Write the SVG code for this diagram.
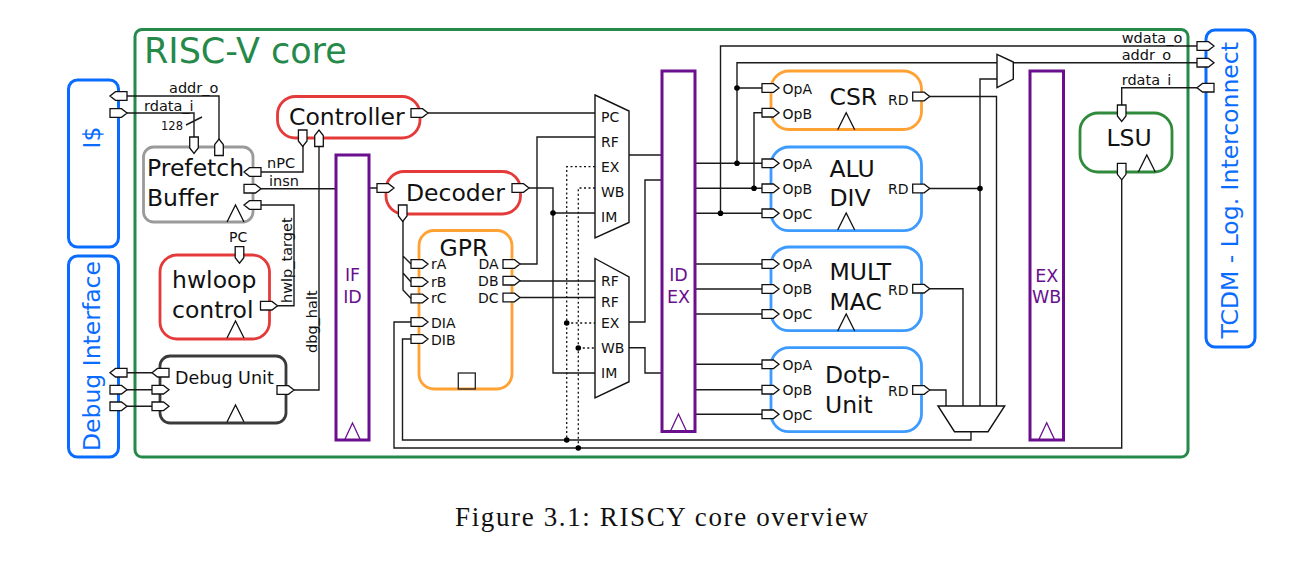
<svg xmlns="http://www.w3.org/2000/svg" width="1303" height="567" viewBox="0 0 1303 567">
<style>
text{font-family:"DejaVu Sans","Liberation Sans",sans-serif;fill:#111}
.box{fill:#fff;stroke-width:2.8}
.red{stroke:#e53a3a}.org{stroke:#ffa133}.blu{stroke:#3d9bff}.gry{stroke:#9a9a9a}.drk{stroke:#3a3a3a}.grn{stroke:#2f8a3c}
.ext{fill:#fff;stroke:#0a6cff;stroke-width:3}
.reg{fill:#fff;stroke:#6a0f8e;stroke-width:3}
.port{fill:#fff;stroke:#111;stroke-width:1.3;stroke-linejoin:miter}
.clk{fill:none;stroke:#111;stroke-width:1.3}
.clkp{fill:none;stroke:#6a0f8e;stroke-width:1.3}
.wire{fill:none;stroke:#1a1a1a;stroke-width:1.4}
.dot{fill:none;stroke:#111;stroke-width:1.3;stroke-dasharray:2 2.5}
.mux{fill:#fff;stroke:#111;stroke-width:1.4}
.big{font-size:23.5px}
.sm{font-size:14.5px}
.mx{font-size:14px}
.ex{font-size:23.5px;fill:#0a6cff}
.rg{font-size:17.5px;fill:#6a0f8e;text-anchor:middle}
</style>
<defs>
<polygon id="pr" class="port" points="0,-4.3 11.5,-4.3 17,0 11.5,4.3 0,4.3"/>
<polygon id="pl" class="port" points="17,-4.3 5.5,-4.3 0,0 5.5,4.3 17,4.3"/>
<polygon id="pd" class="port" points="-4.3,0 4.3,0 4.3,11 0,16.5 -4.3,11"/>
<polygon id="pu" class="port" points="-4.3,16.5 4.3,16.5 4.3,5.5 0,0 -4.3,5.5"/>
<path id="ck" class="clk" d="M0 17L8.5 0L17 17"/>
<path id="ckp" class="clkp" d="M0 16.5L7.7 0L15.4 16.5"/>
<circle id="jn" r="2.8" fill="#000"/>
</defs>

<g id="core">
<rect x="135" y="29.5" width="1053" height="427.5" rx="7" fill="#fff" stroke="#25894a" stroke-width="3"/>
<text x="144" y="63" font-size="35" style="fill:#25894a">RISC-V core</text>
</g>
<g id="icache">
<rect class="ext" x="68.500" y="80" width="50" height="167" rx="9"/>
<text class="ex" transform="translate(100,148.500) rotate(-90)">I$</text>
</g>
<g id="debug-interface">
<rect class="ext" x="68.500" y="256" width="50" height="201" rx="9"/>
<text class="ex" transform="translate(100,451) rotate(-90)">Debug Interface</text>
<use href="#pl" x="110" y="372.700"/><use href="#pr" x="110" y="389.700"/><use href="#pr" x="110" y="406.300"/>
</g>
<g id="tcdm">
<rect class="ext" x="1206" y="30" width="49" height="317" rx="9"/>
<text class="ex" transform="translate(1238,338.500) rotate(-90)">TCDM - Log. Interconnect</text>
</g>

<g id="connectors">
<path class="wire" d="M127 96H219V139M127 113H194V137M186 125L202 117"/>
<path class="wire" d="M261 172H303V146M261 188.700H336M277 305.700H294V205H261M294 390H319V146"/>
<path class="wire" d="M127 372.700H152M127 389.700H152M127 406.300H152M369 188H377"/>
<path class="wire" d="M403 221V290L411 298.500M403 256L411 264M403 273L411 282"/>
<path class="wire" d="M428 113H595M529 188H553V373H595M553 213H595M520 264H537V137H595M520 281H595M520 297.500H595"/>
<path class="wire" d="M411 322H394V448H1121.700V179M411 339H402.500V440H971V432"/>
<path class="dot" d="M595 166.700H566.700V440M595 188H578.300V448M566.700 323H595M578.300 348H595"/>
<path class="wire" d="M629 155H662M662 180H645V322H629M629 347.700H645V373H662"/>
<path class="wire" d="M695 163.300H762M695 188.300H762M695 213.300H762M695 264H762M695 289H762M695 314H762M695 364.300H762M695 389.700H762M695 414.300H762"/>
<path class="wire" d="M720.500 213.300V46H1197M737 163.300V62.700H997M737 88H762M754 188.300V112.700H762M1013 62.700H1197"/>
<path class="wire" d="M929 96.500H996.500V406M929 188.500H980M980 406V79H997M929 288.700H963V406M929 390H946V406"/>
<path class="wire" d="M1197 87.700H1121.700V105"/>
<use href="#jn" x="737" y="88"/><use href="#jn" x="737" y="163.300"/><use href="#jn" x="754" y="188.300"/><use href="#jn" x="720.500" y="213.300"/><use href="#jn" x="553" y="213"/><use href="#jn" x="980" y="188.500"/><use href="#jn" x="566.700" y="323"/><use href="#jn" x="578.300" y="348"/><use href="#jn" x="566.700" y="440"/><use href="#jn" x="578.300" y="448"/>
<text class="sm" x="169" y="93.300">addr_o</text>
<text class="sm" x="144" y="110.500">rdata_i</text>
<text x="161" y="130" font-size="11.500">128</text>
<text class="sm" x="267" y="167.500">nPC</text>
<text class="sm" x="269" y="186">insn</text>
<text class="sm" transform="translate(291.500,303) rotate(-90)">hwlp_target</text>
<text class="sm" transform="translate(316.500,353) rotate(-90)">dbg_halt</text>
<text class="sm" x="1121.700" y="43.400">wdata_o</text>
<text class="sm" x="1121.700" y="60">addr_o</text>
<text class="sm" x="1121.700" y="85">rdata_i</text>
</g>

<g id="prefetch-buffer">
<rect class="box gry" x="143.500" y="147" width="109.500" height="75" rx="10"/>
<text class="big" x="147" y="176">Prefetch</text><text class="big" x="147" y="206">Buffer</text>
<use href="#ck" x="227" y="205"/>
<use href="#pd" x="194" y="137"/><use href="#pu" x="219" y="139"/>
<use href="#pl" x="244" y="172"/><use href="#pr" x="244" y="188.700"/><use href="#pl" x="244" y="205"/>
</g>
<g id="controller">
<rect class="box red" x="277.500" y="96.500" width="142.500" height="41.500" rx="18"/>
<text class="big" x="289" y="125">Controller</text>
<use href="#pd" x="302.700" y="130"/><use href="#pu" x="319" y="130"/><use href="#pr" x="411" y="113"/>
</g>
<g id="hwloop-control">
<rect class="box red" x="160" y="255" width="109.500" height="84" rx="17"/>
<text class="big" x="172" y="288">hwloop</text><text class="big" x="172" y="318">control</text>
<use href="#ck" x="227" y="321"/>
<use href="#pd" x="239.500" y="246.700"/><use href="#pr" x="260.500" y="305.700"/>
<text class="mx" x="229" y="242">PC</text>
</g>
<g id="debug-unit">
<rect class="box drk" x="160" y="356" width="126" height="67" rx="10"/>
<text x="175" y="384" font-size="17.500">Debug Unit</text>
<use href="#ck" x="227" y="405"/>
<use href="#pl" x="152" y="372.700"/><use href="#pr" x="152" y="389.700"/><use href="#pr" x="152" y="406.300"/><use href="#pr" x="277" y="390"/>
</g>
<g id="if-id">
<rect class="reg" x="336" y="155" width="33" height="285"/>
<text class="rg" x="352.500" y="281">IF</text><text class="rg" x="352.500" y="303">ID</text>
<use href="#ckp" x="344.800" y="423"/>
</g>
<g id="decoder">
<rect class="box red" x="386" y="171.500" width="134.500" height="42.500" rx="18"/>
<text class="big" x="406" y="201">Decoder</text>
<use href="#pr" x="377" y="188"/><use href="#pr" x="512" y="188"/><use href="#pd" x="402.700" y="205"/>
</g>
<g id="gpr">
<rect class="box org" x="419" y="230.500" width="93" height="158.500" rx="15"/>
<rect x="458.300" y="373" width="17" height="16" fill="none" stroke="#222" stroke-width="1.300"/>
<text class="big" x="439.500" y="255.500">GPR</text>
<text class="mx" x="431" y="269">rA</text><text class="mx" x="431" y="287">rB</text><text class="mx" x="431" y="303">rC</text>
<text class="mx" x="431" y="327.500">DIA</text><text class="mx" x="431" y="345">DIB</text>
<text class="mx" x="498.500" y="269" text-anchor="end">DA</text><text class="mx" x="498.500" y="286" text-anchor="end">DB</text><text class="mx" x="498.500" y="303" text-anchor="end">DC</text>
<use href="#pr" x="411" y="264"/><use href="#pr" x="411" y="282"/><use href="#pr" x="411" y="298.500"/><use href="#pr" x="411" y="322"/><use href="#pr" x="411" y="339"/>
<use href="#pr" x="503" y="264"/><use href="#pr" x="503" y="280.700"/><use href="#pr" x="503" y="297.500"/>
</g>
<g id="mux-a">
<polygon class="mux" points="595,95 629,111 629,222.500 595,238"/>
<text class="mx" x="601" y="121.700">PC</text><text class="mx" x="601" y="146.700">RF</text><text class="mx" x="601" y="171.700">EX</text><text class="mx" x="601" y="196.700">WB</text><text class="mx" x="601" y="221.700">IM</text>
</g>
<g id="mux-b">
<polygon class="mux" points="595,258.500 629,277 629,381.700 595,398"/>
<text class="mx" x="601" y="286">RF</text><text class="mx" x="601" y="306.700">RF</text><text class="mx" x="601" y="328">EX</text><text class="mx" x="601" y="353">WB</text><text class="mx" x="601" y="378">IM</text>
</g>
<g id="id-ex">
<rect class="reg" x="662" y="71" width="33" height="360.500"/>
<text class="rg" x="678.500" y="281">ID</text><text class="rg" x="678.500" y="303">EX</text>
<use href="#ckp" x="670.800" y="414"/>
</g>
<g id="csr">
<rect class="box org" x="771" y="71" width="150.500" height="58.500" rx="18"/>
<text class="big" x="829.500" y="105">CSR</text>
<text class="mx" x="782.500" y="94">OpA</text><text class="mx" x="782.500" y="119">OpB</text><text class="mx" x="888" y="105">RD</text>
<use href="#ck" x="837.700" y="112.700"/>
<use href="#pr" x="762" y="88"/><use href="#pr" x="762" y="112.700"/><use href="#pr" x="912.700" y="96.500"/>
</g>
<g id="alu-div">
<rect class="box blu" x="771" y="147" width="150.500" height="83.700" rx="18"/>
<text class="big" x="829.500" y="177">ALU</text><text class="big" x="829.500" y="206">DIV</text>
<text class="mx" x="782.500" y="169">OpA</text><text class="mx" x="782.500" y="194">OpB</text><text class="mx" x="782.500" y="219">OpC</text><text class="mx" x="888" y="194">RD</text>
<use href="#ck" x="837.700" y="213"/>
<use href="#pr" x="762" y="163.300"/><use href="#pr" x="762" y="188.300"/><use href="#pr" x="762" y="213.300"/><use href="#pr" x="912.700" y="188.500"/>
</g>
<g id="mult-mac">
<rect class="box blu" x="771" y="247" width="150.500" height="83.700" rx="18"/>
<text class="big" x="829.500" y="280">MULT</text><text class="big" x="829.500" y="310">MAC</text>
<text class="mx" x="782.500" y="269">OpA</text><text class="mx" x="782.500" y="294">OpB</text><text class="mx" x="782.500" y="319">OpC</text><text class="mx" x="888" y="295">RD</text>
<use href="#ck" x="837.700" y="314"/>
<use href="#pr" x="762" y="264"/><use href="#pr" x="762" y="289"/><use href="#pr" x="762" y="314"/><use href="#pr" x="912.700" y="288.700"/>
</g>
<g id="dotp-unit">
<rect class="box blu" x="771" y="347.700" width="150.500" height="84" rx="18"/>
<text class="big" x="825" y="383">Dotp-</text><text class="big" x="825" y="412.700">Unit</text>
<text class="mx" x="782.500" y="370">OpA</text><text class="mx" x="782.500" y="395">OpB</text><text class="mx" x="782.500" y="420">OpC</text><text class="mx" x="888" y="396">RD</text>
<use href="#pr" x="762" y="364.300"/><use href="#pr" x="762" y="389.700"/><use href="#pr" x="762" y="414.300"/><use href="#pr" x="912.700" y="390"/>
</g>
<g id="mux-c"><polygon class="mux" points="938,406 1004.700,406 988,431.700 954.500,431.700"/></g>
<g id="mux-d"><polygon class="mux" points="997,54.300 1013.300,62 1013.300,79 997,87.700"/></g>
<g id="ex-wb">
<rect class="reg" x="1030" y="71" width="33.500" height="369"/>
<text class="rg" x="1046.700" y="281.500">EX</text><text class="rg" x="1046.700" y="303">WB</text>
<use href="#ckp" x="1039" y="422.700"/>
</g>
<g id="lsu">
<rect class="box grn" x="1080" y="113" width="92" height="59" rx="18"/>
<text class="big" x="1106.500" y="146">LSU</text>
<use href="#ck" x="1138.300" y="155"/>
<use href="#pd" x="1121.700" y="105"/><use href="#pd" x="1121.700" y="163.300"/>
</g>
<g id="tcdm-ports">
<use href="#pr" x="1197" y="46"/><use href="#pr" x="1197" y="62.700"/><use href="#pl" x="1197" y="87.700"/>
</g>
<g id="icache-ports"><use href="#pl" x="110" y="96"/><use href="#pr" x="110" y="113"/></g>
<text x="455" y="526" font-size="27" textLength="413" style="font-family:'Liberation Serif',serif">Figure 3.1: RISCY core overview</text>
</svg>
